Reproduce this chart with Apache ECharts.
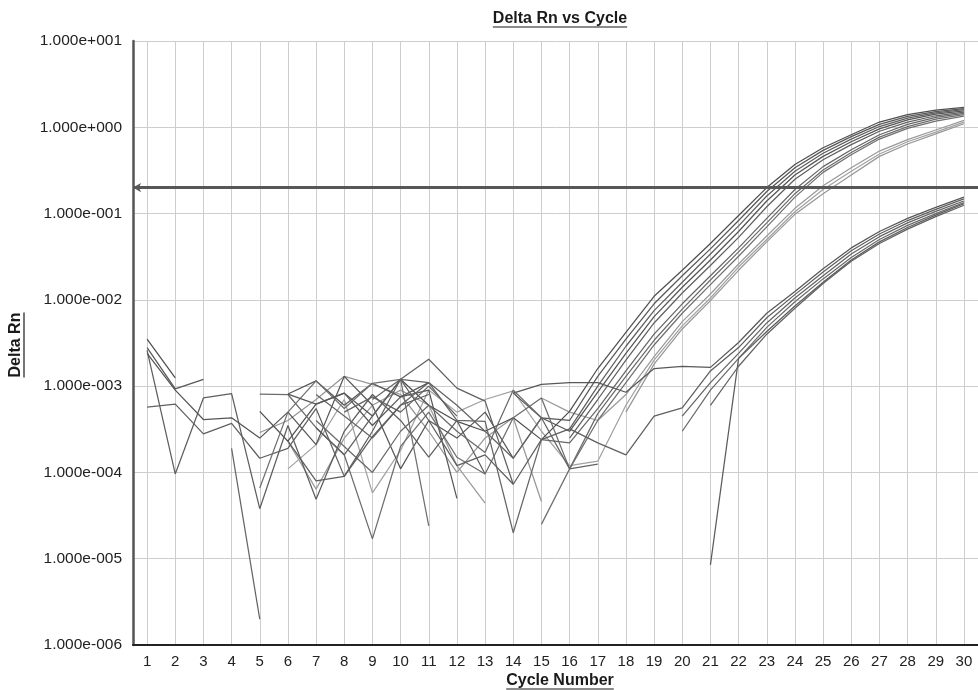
<!DOCTYPE html>
<html><head><meta charset="utf-8">
<script src="https://cdn.jsdelivr.net/npm/echarts@6/dist/echarts.min.js"></script>
<style>html,body{margin:0;padding:0;background:#fff}#c{width:978px;height:690px}</style>
</head><body><div id="c"></div>
<script>
const N = null;
const cycles = [1,2,3,4,5,6,7,8,9,10,11,12,13,14,15,16,17,18,19,20,21,22,23,24,25,26,27,28,29,30];
const yTickLabels = ['1.000e-006','1.000e-005','1.000e-004','1.000e-003','1.000e-002','1.000e-001','1.000e+000','1.000e+001'];
const threshold = 0.2;

const well01 = [3.5e-3,1.25e-3,N,N,5.1e-4,2.3e-4,6.2e-4,8.3e-4,4.5e-4,1.2e-3,6e-4,3.9e-4,3e-4,4.3e-4,2.4e-4,5.1e-4,1.6e-3,4.2e-3,0.011,0.022,0.045,0.095,0.2,0.37,0.58,0.82,1.15,1.4,1.58,1.7];
const well02 = [2.8e-3,9.3e-4,1.2e-3,N,N,8.1e-4,1.15e-3,6e-4,1.08e-3,7.5e-4,9e-4,5e-5,N,8.3e-4,4.3e-4,4e-4,1.3e-3,3.5e-3,9e-3,0.019,0.039,0.083,0.18,0.34,0.54,0.78,1.08,1.34,1.52,1.65];
const well03 = [2.6e-3,9.6e-5,7.3e-4,8.2e-4,3.8e-5,3.5e-4,4.9e-5,3e-4,8e-4,4e-4,1.5e-4,4e-4,9.6e-5,N,N,3.2e-4,1e-3,2.9e-3,7.5e-3,0.016,0.034,0.072,0.16,0.31,0.5,0.73,1.02,1.28,1.47,1.6];
const well04 = [2.4e-3,9e-4,4.1e-4,4.3e-4,2.5e-4,5e-4,2.1e-4,1.3e-3,6e-4,1.1e-4,4e-4,2.5e-4,5e-4,1.46e-4,4.3e-4,3e-4,8.5e-4,2.4e-3,6.4e-3,0.014,0.029,0.062,0.14,0.28,0.46,0.68,0.96,1.22,1.42,1.55];
const well05 = [5.7e-4,6.2e-4,2.8e-4,3.7e-4,1.46e-4,1.9e-4,5.5e-4,9e-5,3e-4,1.2e-3,2.05e-3,9.5e-4,6.7e-4,7.3e-5,N,2.5e-4,7e-4,2e-3,5.4e-3,0.012,0.025,0.053,0.12,0.25,0.42,0.63,0.9,1.15,1.36,1.5];
const well06 = [N,N,N,1.9e-4,2e-6,N,8e-4,4.5e-4,2.5e-4,6e-4,1.1e-3,4e-4,3.9e-4,2e-5,2.4e-4,2.2e-4,5.5e-4,1.5e-3,4e-3,9e-3,0.019,0.04,0.088,0.19,0.35,0.55,0.82,1.08,1.3,1.45];
const well07 = [N,N,N,N,8.1e-4,8e-4,3.3e-4,1.6e-4,1.7e-5,2e-4,5e-4,1.5e-4,9.6e-5,4.3e-4,7.3e-4,1.1e-4,4.8e-4,1.3e-3,3.4e-3,7.8e-3,0.017,0.036,0.078,0.17,0.32,0.51,0.77,1.02,1.24,1.4];
const well08 = [N,N,N,N,6.6e-5,5e-4,1.15e-3,5.5e-4,1.08e-3,1.2e-3,2.4e-5,N,N,N,2.5e-5,1.1e-4,4e-4,1.1e-3,3e-3,7e-3,0.015,0.032,0.07,0.155,0.3,0.48,0.73,0.97,1.18,1.35];
const well09 = [N,N,N,N,N,2.3e-4,6.4e-5,2.5e-4,6e-4,9e-4,6e-4,1.2e-4,4.4e-5,N,7.3e-4,5e-4,4e-4,8e-4,2.2e-3,5.6e-3,0.0117,0.026,0.055,0.115,0.21,0.34,0.53,0.72,0.93,1.2];
const well10 = [N,N,N,N,N,1.1e-4,2.1e-4,7e-4,5.8e-5,1.8e-4,9e-4,5e-4,7e-4,8.8e-4,3e-4,1.2e-4,1.35e-4,6e-4,2e-3,5e-3,0.0105,0.024,0.05,0.105,0.19,0.31,0.49,0.68,0.88,1.15];
const well11 = [N,N,N,N,2.9e-4,4e-4,7e-4,1.3e-3,1.05e-3,8e-4,3e-4,1e-4,2.5e-4,4.3e-4,4.6e-5,N,N,5e-4,1.8e-3,4.6e-3,0.0098,0.022,0.047,0.098,0.17,0.28,0.46,0.64,0.84,1.1];
const well12 = [N,N,N,N,N,8.1e-4,6.2e-4,8.3e-4,3.5e-4,7.5e-4,1.1e-3,N,N,8.3e-4,1.05e-3,1.1e-3,1.1e-3,8.5e-4,1.6e-3,1.7e-3,1.65e-3,3.2e-3,7e-3,0.0125,0.023,0.04,0.062,0.088,0.118,0.155];
const well13 = [N,N,N,N,N,N,3.3e-4,1.6e-4,4.5e-4,1.2e-3,4e-4,1.2e-4,1.6e-4,7.3e-5,2.4e-4,3.2e-4,2.2e-4,1.6e-4,4.5e-4,5.6e-4,1.5e-3,2.8e-3,6.2e-3,0.0115,0.021,0.037,0.058,0.083,0.112,0.148];
const well14 = [N,N,N,N,N,N,N,N,7e-4,1.2e-3,1.1e-3,6e-4,3e-4,1.46e-4,4.3e-4,1.1e-4,1.25e-4,N,N,4.5e-4,1.1e-3,2.4e-3,5.4e-3,0.0105,0.019,0.034,0.054,0.078,0.106,0.14];
const well15 = [N,N,N,N,N,N,4e-4,2e-4,1e-4,3e-4,6e-4,3e-4,1.7e-4,9e-4,4.3e-4,N,N,N,N,3e-4,9e-4,2.1e-3,4.8e-3,0.0095,0.0175,0.031,0.05,0.073,0.1,0.134];
const well16 = [N,N,N,N,N,2.3e-4,8e-5,9e-5,2.6e-4,6e-4,8e-4,N,N,N,N,N,N,N,N,N,8.5e-6,2.1e-3,4.3e-3,0.0085,0.016,0.029,0.047,0.069,0.096,0.13];
const well17 = [N,N,N,N,N,N,N,5e-4,7.5e-4,5e-4,1e-3,4.5e-4,N,N,N,N,N,N,N,N,6e-4,1.7e-3,4e-3,8e-3,0.0155,0.028,0.045,0.066,0.092,0.125];

const wells = [well01,well02,well03,well04,well05,well06,well07,well08,well09,well10,well11,well12,well13,well14,well15,well16,well17];
const wellColors = ['#4f4f4f','#575757','#5e5e5e','#555555','#606060','#666666','#6c6c6c','#707070','#9a9a9a','#a2a2a2','#979797','#585858','#5f5f5f','#646464','#6a6a6a','#5c5c5c','#626262'];

const FONT = '"Liberation Sans", Arial, Helvetica, sans-serif';
const chart = echarts.init(document.getElementById('c'), null, {renderer: 'canvas'});

const series = wells.map((w, i) => ({
  type: 'line',
  data: cycles.map((c, k) => [c, w[k] === null ? '-' : w[k]]),
  symbol: 'none', showSymbol: false, connectNulls: false,
  lineStyle: {color: wellColors[i], width: 1.25},
  itemStyle: {color: wellColors[i]},
  silent: true, animation: false, z: i < 8 || i > 10 ? 3 : 2,
  emphasis: {disabled: true}
}));
series.push({
  type: 'line', data: [], silent: true, animation: false, z: 5,
  markLine: {
    silent: true, animation: false,
    symbol: ['arrow', 'none'], symbolSize: [7, 8],
    label: {show: false},
    lineStyle: {color: '#575757', width: 3, type: 'solid'},
    data: [{yAxis: threshold}]
  }
});

function measure(text, font) {
  const ctx = document.createElement('canvas').getContext('2d');
  ctx.font = font;
  return ctx.measureText(text).width;
}
const titleText = 'Delta Rn vs Cycle', xName = 'Cycle Number', yName = 'Delta Rn';
const boldFont = 'bold 16px ' + FONT;
const wT = measure(titleText, boldFont), wX = measure(xName, boldFont), wY = measure(yName, boldFont);

chart.setOption({
  backgroundColor: '#ffffff',
  animation: false,
  grid: {left: 133, top: 41, width: 854, height: 604, containLabel: false},
  xAxis: {
    type: 'value', min: 0.5, max: 30.5,
    axisLine: {show: true, onZero: false, lineStyle: {color: '#222', width: 2}},
    axisTick: {show: false, customValues: cycles},
    axisLabel: {customValues: cycles, color: '#222', fontSize: 15, margin: 9, fontFamily: FONT},
    splitLine: {show: true, lineStyle: {color: '#cdcdcd', width: 1}}
  },
  yAxis: {
    type: 'log', logBase: 10, min: 1e-6, max: 10, splitNumber: 7,
    axisLine: {show: true, lineStyle: {color: '#555', width: 2.5}},
    axisTick: {show: false},
    axisLabel: {
      color: '#222', fontSize: 15.5, margin: 11, fontFamily: FONT,
      formatter: v => yTickLabels[Math.round(Math.log10(v)) + 6]
    },
    splitLine: {show: true, lineStyle: {color: '#cdcdcd', width: 1}},
    minorSplitLine: {show: false}
  },
  series: series,
  graphic: [
    {type: 'text', x: 560, y: 19, silent: true,
     style: {text: titleText, font: boldFont, fill: '#1a1a1a', align: 'center', verticalAlign: 'middle', textAlign: 'center', textVerticalAlign: 'middle'}},
    {type: 'line', silent: true, shape: {x1: 560 - wT / 2, y1: 27, x2: 560 + wT / 2, y2: 27}, style: {stroke: '#1a1a1a', lineWidth: 1.2}},
    {type: 'text', x: 560, y: 681, silent: true,
     style: {text: xName, font: boldFont, fill: '#1a1a1a', align: 'center', verticalAlign: 'middle', textAlign: 'center', textVerticalAlign: 'middle'}},
    {type: 'line', silent: true, shape: {x1: 560 - wX / 2, y1: 689, x2: 560 + wX / 2, y2: 689}, style: {stroke: '#1a1a1a', lineWidth: 1.2}},
    {type: 'text', x: 16, y: 345, rotation: Math.PI / 2, silent: true,
     style: {text: yName, font: boldFont, fill: '#1a1a1a', align: 'center', verticalAlign: 'middle', textAlign: 'center', textVerticalAlign: 'middle'}},
    {type: 'line', silent: true, shape: {x1: 24, y1: 345 - wY / 2, x2: 24, y2: 345 + wY / 2}, style: {stroke: '#1a1a1a', lineWidth: 1.2}}
  ]
});
</script></body></html>
